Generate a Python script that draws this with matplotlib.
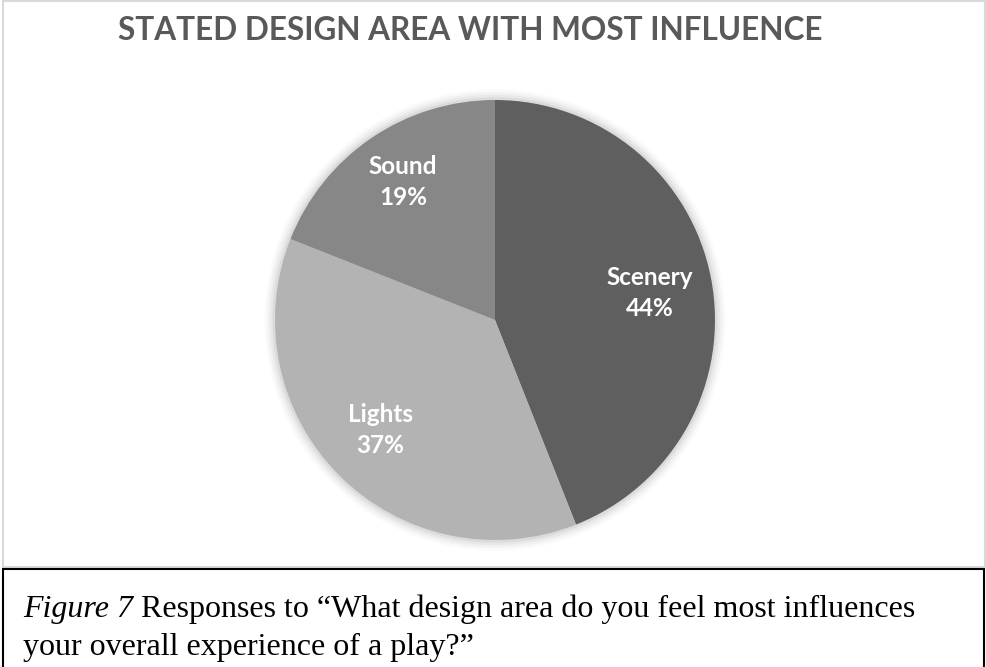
import matplotlib
matplotlib.use("Agg")
import matplotlib.pyplot as plt
from matplotlib.patches import Rectangle, Circle

title = "STATED DESIGN AREA WITH MOST INFLUENCE"
categories = ["Scenery", "Lights", "Sound"]
values = [44, 37, 19]
colors = ["#5f5f5f", "#b3b3b3", "#878787"]
caption_italic = "Figure 7"
caption_line1 = " Responses to \u201cWhat design area do you feel most influences"
caption_line2 = "your overall experience of a play?\u201d"

W, H = 987, 667
fig = plt.figure(figsize=(W / 100, H / 100), dpi=100)
fig.patch.set_facecolor("white")

def fx(x):
    return x / W

def fy(y):
    return 1 - y / H

# chart area border
fig.patches.append(Rectangle((fx(3), fy(567)), fx(982), 566 / H, transform=fig.transFigure,
                             fill=False, edgecolor="#d9d9d9", linewidth=1.5))
# caption box (bottom edge runs off the page)
fig.patches.append(Rectangle((fx(3), fy(680)), fx(981), 111 / H, transform=fig.transFigure,
                             fill=False, edgecolor="#000000", linewidth=1.5))

cx, cy, r = 495, 320, 220
ax = fig.add_axes([fx(cx - r * 1.1), fy(cy + r * 1.1), 2.2 * r / W, 2.2 * r / H])
# soft shadow
for i, a in enumerate([0.05, 0.04, 0.03, 0.02]):
    ax.add_patch(Circle((0, 0), 1 + 0.012 * (i + 1), color="black", alpha=a, lw=0, zorder=0))
wedges, _ = ax.pie(values, colors=colors, startangle=90, counterclock=False,
                   radius=1, wedgeprops=dict(linewidth=0, zorder=2))
ax.set_xlim(-1.1, 1.1)
ax.set_ylim(-1.1, 1.1)
ax.set_aspect("auto")
ax.axis("off")

label_pos = {"Scenery": (650, 293), "Lights": (380, 430), "Sound": (403, 182)}
for cat, v in zip(categories, values):
    px, py = label_pos[cat]
    fig.text(fx(px), fy(py), f"{cat}\n{v}%", ha="center", va="center", color="white",
             fontsize=17.5, fontweight="bold", family="Lato", linespacing=1.4)

fig.text(fx(470), fy(31), title, ha="center", va="center", color="#595959",
         fontsize=22.7, fontweight="bold", family="Lato")

fs = 23
t1 = fig.text(fx(23), fy(617), caption_italic, ha="left", va="baseline", fontsize=fs,
              family="Liberation Serif", style="italic", color="black")
fig.canvas.draw()
bb = t1.get_window_extent(fig.canvas.get_renderer())
fig.text(bb.x1 / W, fy(617), caption_line1, ha="left", va="baseline", fontsize=fs,
         family="Liberation Serif", color="black")
fig.text(fx(23), fy(655), caption_line2, ha="left", va="baseline", fontsize=fs,
         family="Liberation Serif", color="black")

fig.savefig("out.png", dpi=100)
